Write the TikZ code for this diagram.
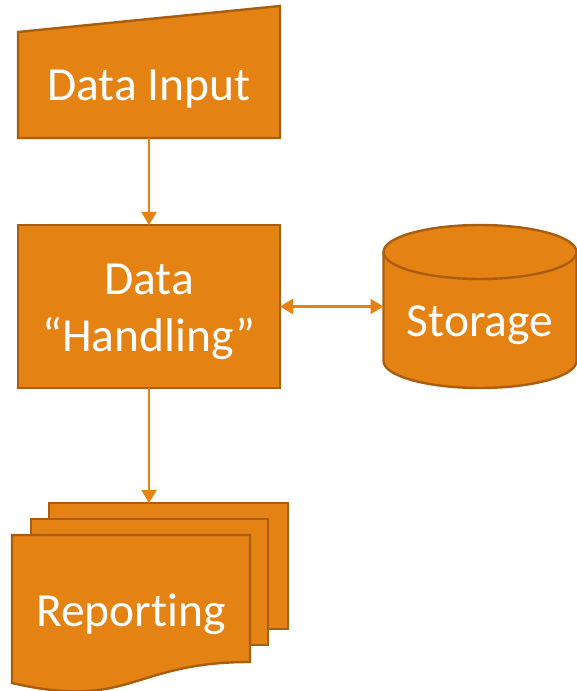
\documentclass[tikz,border=0pt]{standalone}
\usepackage{fontspec}
\setmainfont[Ligatures=NoCommon]{Carlito}
\usetikzlibrary{arrows.meta}
\definecolor{boxfill}{RGB}{228,130,20}
\definecolor{boxline}{RGB}{168,94,14}
\definecolor{linkcol}{RGB}{228,130,20}
\tikzset{
  shapebox/.style={fill=boxfill, draw=boxline, line width=2.4pt},
  frame/.style={inner sep=0pt, outer sep=0pt},
  label/.style={text=white, inner sep=0pt, font=\fontsize{47.5}{57}\selectfont, anchor=base},
  conn/.style={draw=linkcol, line width=2.2pt, -{Triangle[width=15pt,length=13pt]}},
  biconn/.style={draw=linkcol, line width=2.2pt, {Triangle[width=15pt,length=13pt]}-{Triangle[width=15pt,length=13pt]}}
}
\begin{document}
\begin{tikzpicture}[x=1pt,y=1pt]
\useasboundingbox (0,0) rectangle (577,691);

% manual input (slanted top)
\node[frame, minimum width=262pt, minimum height=106pt] (input) at (149,606) {};
\draw[shapebox] (18,553) -- (18,659) -- (280,685) -- (280,553) -- cycle;
\node[label] (inputtxt) at (149,590) {Data Input};

% process box
\node[frame, shapebox, minimum width=262pt, minimum height=163pt] (handling) at (149,384.5) {};
\node[label] (handtxt1) at (149,396) {Data};
\node[label] (handtxt2) at (149,339) {“Handling”};

% storage cylinder
\node[frame, minimum width=193pt, minimum height=163pt] (storage) at (480,384.5) {};
\draw[shapebox] (383.5,439) -- (383.5,330) arc (180:360:96.5 and 27) -- (576.5,439)
  arc (0:180:96.5 and 27) -- cycle;
\draw[shapebox, fill=none] (383.5,439) arc (180:360:96.5 and 27);
\node[label] (storetxt) at (480,354) {Storage};

% stacked documents
\node[frame, minimum width=239pt, minimum height=126pt] (reports) at (168.5,125) {};
\draw[shapebox] (49,62) rectangle (288,188);
\draw[shapebox] (31,46) rectangle (268,172);
\draw[shapebox] (12,156) -- (250,156) -- (250,29)
  .. controls (131,29) and (131,-19.5) .. (12,8) -- cycle;
\node[label] (reporttxt) at (131,64) {Repor\kern0ptting};

% connectors
\draw[conn] (input.south) -- (handling.north);
\draw[biconn] (handling.east) -- (storage.west);
\draw[conn] (handling.south) -- (handling.south |- reports.north);
\end{tikzpicture}
\end{document}
